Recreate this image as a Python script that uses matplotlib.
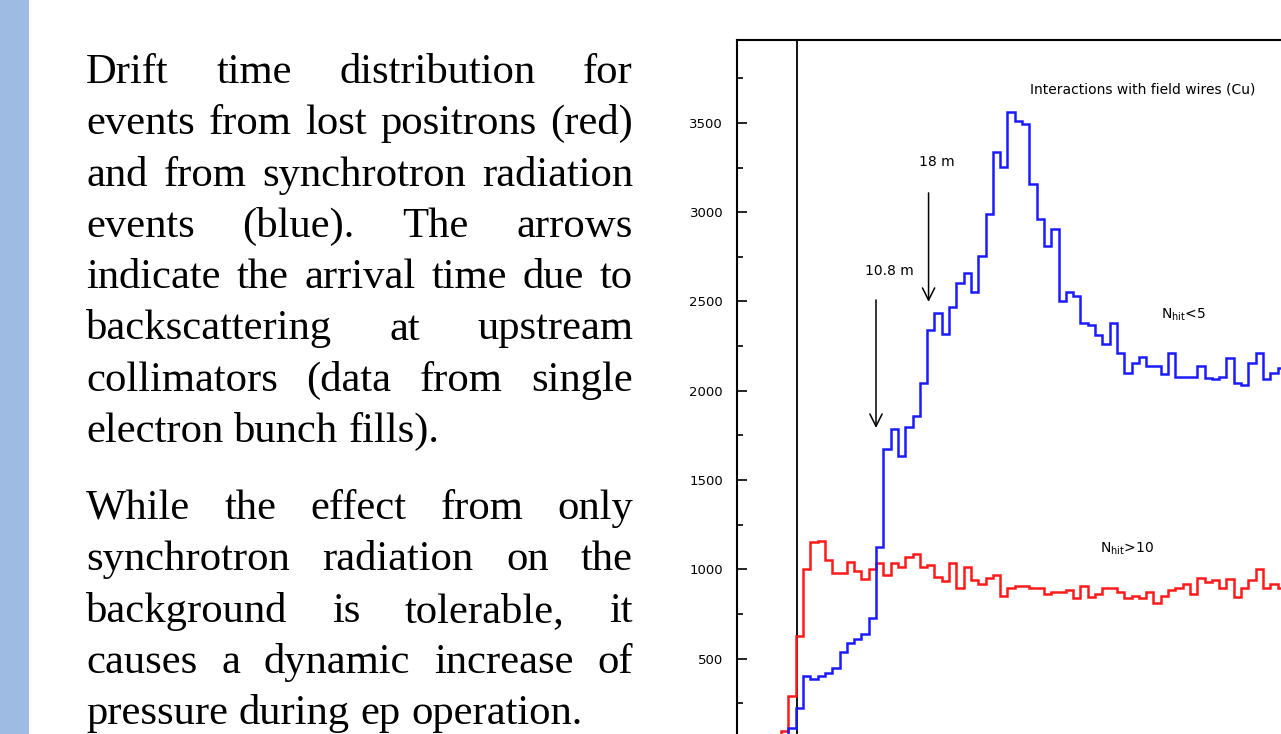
import numpy as np
import matplotlib
matplotlib.use('Agg')
import matplotlib.pyplot as plt
from matplotlib.patches import Rectangle
from matplotlib.transforms import IdentityTransform

# drift time histograms, one value per bin (bin index = drift time bin)
blue_start = -2
blue_counts = [40, 112, 226, 405, 385, 405, 418, 450, 539, 586, 609, 638, 726, 1127,
               1673, 1786, 1635, 1796, 1861, 2042, 2341, 2434, 2317, 2468, 2606, 2658,
               2555, 2757, 2989, 3339, 3254, 3563, 3511, 3493, 3158, 2961, 2811, 2905,
               2501, 2552, 2531, 2382, 2369, 2310, 2261, 2382, 2214, 2098, 2158, 2191,
               2139, 2139, 2094, 2214, 2076, 2076, 2076, 2139, 2070, 2064, 2076, 2182,
               2046, 2033, 2158, 2214, 2064, 2102, 2126, 2110]
red_start = -3
red_counts = [40, 97, 291, 629, 1002, 1154, 1161, 1053, 982, 982, 1043, 993, 948, 1002,
              1036, 969, 1038, 1012, 1068, 1086, 1012, 1025, 959, 937, 1038, 894, 1012,
              941, 918, 950, 969, 851, 896, 907, 907, 896, 896, 864, 875, 875, 886, 840,
              905, 845, 862, 896, 896, 872, 840, 852, 840, 875, 810, 851, 885, 898, 920,
              860, 950, 931, 941, 896, 945, 843, 896, 941, 1001, 896, 918, 896, 900]
yticks = [500, 1000, 1500, 2000, 2500, 3000, 3500]

# arrows: (bin, tail value, tip value, label)
arrows = [(11.0, 2509, 1792, '10.8 m'), (18.2, 3108, 2498, '18 m')]

para1 = ["Drift time distribution for",
         "events from lost positrons (red)",
         "and from synchrotron radiation",
         "events (blue). The arrows",
         "indicate the arrival time due to",
         "backscattering at upstream",
         "collimators (data from single",
         "electron bunch fills)."]
para2 = ["While the effect from only",
         "synchrotron radiation on the",
         "background is tolerable, it",
         "causes a dynamic increase of",
         "pressure during ep operation."]

W, H = 1281, 734
fig = plt.figure(figsize=(W / 100, H / 100), dpi=100)
fig.patch.set_facecolor('white')
fig.add_artist(Rectangle((0, 0), 29 / W, 1, transform=fig.transFigure,
                         facecolor='#9dbbe3', edgecolor='none'))

# chart (runs off the right and bottom edge of the slide)
ax_l, ax_r, ax_t, ax_b = 737, 1400, 40, 748
ax = fig.add_axes([ax_l / W, 1 - ax_b / H, (ax_r - ax_l) / W, (ax_b - ax_t) / H])
px_per_bin = 7.3
x0 = -(795.7 - ax_l) / px_per_bin
ax.set_xlim(x0, x0 + (ax_r - ax_l) / px_per_bin)
ax.set_ylim(0, 3964)

red_edges = np.arange(red_start, red_start + len(red_counts) + 1)
blue_edges = np.arange(blue_start, blue_start + len(blue_counts) + 1)
ax.axvline(0.18, color='black', lw=1.3, zorder=1)
ax.stairs(red_counts, red_edges, color='#ff1a1a', lw=1.8, baseline=None, zorder=2)
ax.stairs(blue_counts, blue_edges, color='#1a1aff', lw=1.8, baseline=None, zorder=3)

for xk, tail, tip, lab in arrows:
    ax.annotate('', xy=(xk, tip), xytext=(xk, tail),
                arrowprops=dict(arrowstyle='->', lw=1.1, color='black',
                                mutation_scale=22, shrinkA=0, shrinkB=0))
afs = 10
ax.text(12.9, 2671, arrows[0][3], ha='center', va='center', fontsize=afs)
ax.text(19.3, 3282, arrows[1][3], ha='center', va='center', fontsize=afs)
ax.text(47.5, 3685, 'Interactions with field wires (Cu)', ha='center', va='center', fontsize=afs)
ax.text(53.1, 2425, r'N$_{\rm hit}$<5', ha='center', va='center', fontsize=afs)
ax.text(45.4, 1114, r'N$_{\rm hit}$>10', ha='center', va='center', fontsize=afs)

ax.set_yticks(yticks)
ax.set_yticks(np.arange(250, 3964, 250), minor=True)
ax.set_xticks([])
ax.tick_params(axis='y', which='major', direction='in', length=7, width=1.2,
               labelsize=9.5, pad=10)
ax.tick_params(axis='y', which='minor', direction='in', length=4.3, width=1.2)
for s in ax.spines.values():
    s.set_linewidth(1.5)

# justified slide text
pix = IdentityTransform()
r = fig.canvas.get_renderer()
X0, X1 = 86, 633
fs = 30.7

def put_line(line, y_img, justify):
    words = line.split()
    texts = [fig.text(0, H - y_img, w, transform=pix, fontsize=fs,
                      family='Liberation Serif', va='baseline') for w in words]
    widths = [t.get_window_extent(r).width for t in texts]
    if justify and len(words) > 1:
        gap = (X1 - X0 - sum(widths)) / (len(words) - 1)
    else:
        gap = fs * 0.25 * 100 / 72
    x = X0
    for t, w in zip(texts, widths):
        t.set_x(x)
        x += w + gap

step = 51.3
for i, line in enumerate(para1):
    put_line(line, 83 + i * step, i < len(para1) - 1)
for i, line in enumerate(para2):
    put_line(line, 519 + i * step, i < len(para2) - 1)

fig.savefig('out.png', dpi=100)
